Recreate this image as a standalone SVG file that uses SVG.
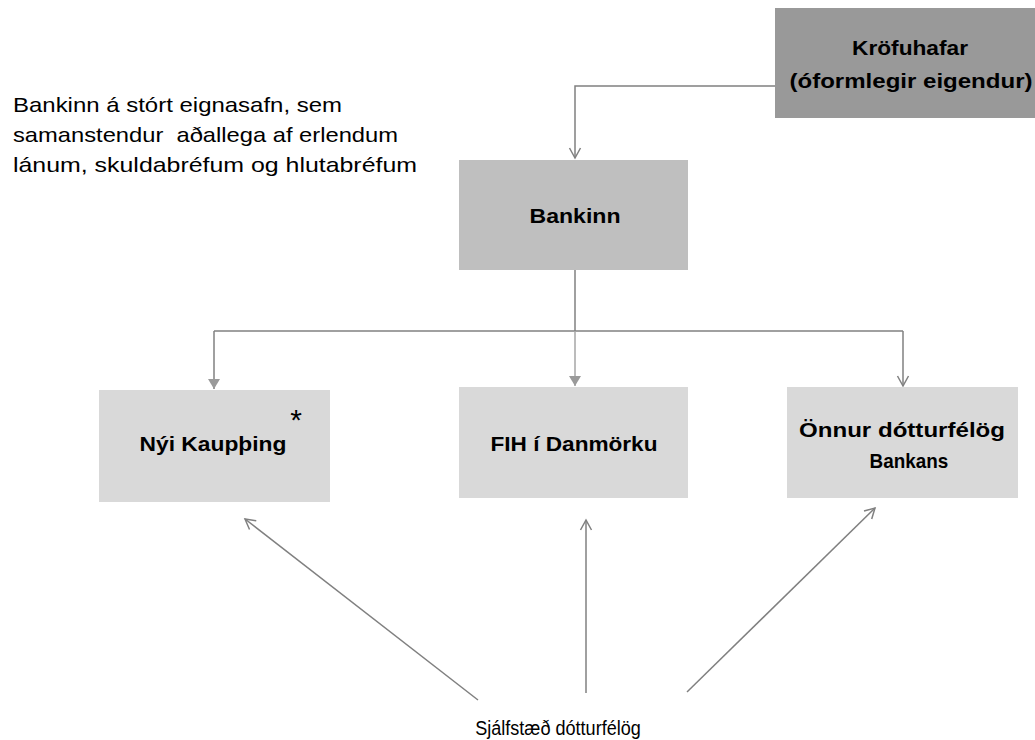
<svg xmlns="http://www.w3.org/2000/svg" width="1035" height="740" viewBox="0 0 1035 740">
<style>
.lbl{font-family:"Liberation Sans",Arial,sans-serif;font-size:21px;fill:#000}
.b{font-weight:bold;text-anchor:middle}
.big{font-size:22px}
.con{fill:none;stroke:#808080;stroke-width:1.5}
</style>
<defs>
<marker id="open" markerWidth="14" markerHeight="14" viewBox="-12 -7 14 14" refX="0" refY="0" orient="auto" markerUnits="userSpaceOnUse">
<path d="M-10,-5.5 L0,0 L-10,5.5" fill="none" stroke="#808080" stroke-width="1.5"/>
</marker>
<marker id="fill" markerWidth="14" markerHeight="14" viewBox="-12 -7 14 14" refX="0" refY="0" orient="auto" markerUnits="userSpaceOnUse">
<path d="M-10,-6 L0,0 L-10,6 Z" fill="#9a9a9a"/>
</marker>
</defs>
<rect width="1035" height="740" fill="#fff"/>
<g id="connectors">
<path class="con" d="M775,86 H575 V158" marker-end="url(#open)"/>
<path class="con" d="M575,270 V331"/>
<path class="con" d="M214,331 H903"/>
<path class="con" d="M214,331 V389" marker-end="url(#fill)"/>
<path d="M575,331 V386" fill="none" stroke="#a6a6a6" stroke-width="1.5" marker-end="url(#fill)"/>
<path class="con" d="M903,331 V386" marker-end="url(#open)"/>
<path class="con" d="M478,700 L245,519" marker-end="url(#open)"/>
<path class="con" d="M586,693 V520" marker-end="url(#open)"/>
<path class="con" d="M687,692 L875,508" marker-end="url(#open)"/>
</g>
<g id="krofuhafar">
<rect x="775" y="8" width="270" height="110" fill="#999999"/>
<text class="lbl b" x="910" y="55" textLength="116" lengthAdjust="spacingAndGlyphs">Kröfuhafar</text>
<text class="lbl b" x="911" y="88" textLength="243" lengthAdjust="spacingAndGlyphs">(óformlegir eigendur)</text>
</g>
<g id="bankinn">
<rect x="459" y="160" width="229" height="110" fill="#bfbfbf"/>
<text class="lbl b" x="575" y="223" textLength="91" lengthAdjust="spacingAndGlyphs">Bankinn</text>
</g>
<g id="nyi-kaupthing">
<rect x="99" y="390" width="231" height="112" fill="#d9d9d9"/>
<text class="lbl b" x="213" y="451" textLength="147" lengthAdjust="spacingAndGlyphs">Nýi Kaupþing</text>
<text x="296" y="430" font-family="Liberation Sans,Arial,sans-serif" font-size="30" text-anchor="middle" fill="#000">*</text>
</g>
<g id="fih">
<rect x="459" y="387" width="229" height="111" fill="#d9d9d9"/>
<text class="lbl b" x="574" y="451" textLength="167" lengthAdjust="spacingAndGlyphs">FIH í Danmörku</text>
</g>
<g id="onnur">
<rect x="787" y="387" width="231" height="111" fill="#d9d9d9"/>
<text class="lbl b" x="902" y="437" textLength="206" lengthAdjust="spacingAndGlyphs">Önnur dótturfélög</text>
<text class="lbl b" transform="translate(909,468) scale(0.9,1)">Bankans</text>
</g>
<g id="note">
<text class="lbl" x="13" y="112" textLength="329" lengthAdjust="spacingAndGlyphs">Bankinn á stórt eignasafn, sem</text>
<text class="lbl" x="13" y="142" textLength="385" lengthAdjust="spacingAndGlyphs" xml:space="preserve">samanstendur  aðallega af erlendum</text>
<text class="lbl" x="13" y="172" textLength="404" lengthAdjust="spacingAndGlyphs">lánum, skuldabréfum og hlutabréfum</text>
</g>
<g id="sjalfstaed">
<text class="lbl" text-anchor="middle" transform="translate(558,735) scale(0.86,1)">Sjálfstæð dótturfélög</text>
</g>
</svg>
